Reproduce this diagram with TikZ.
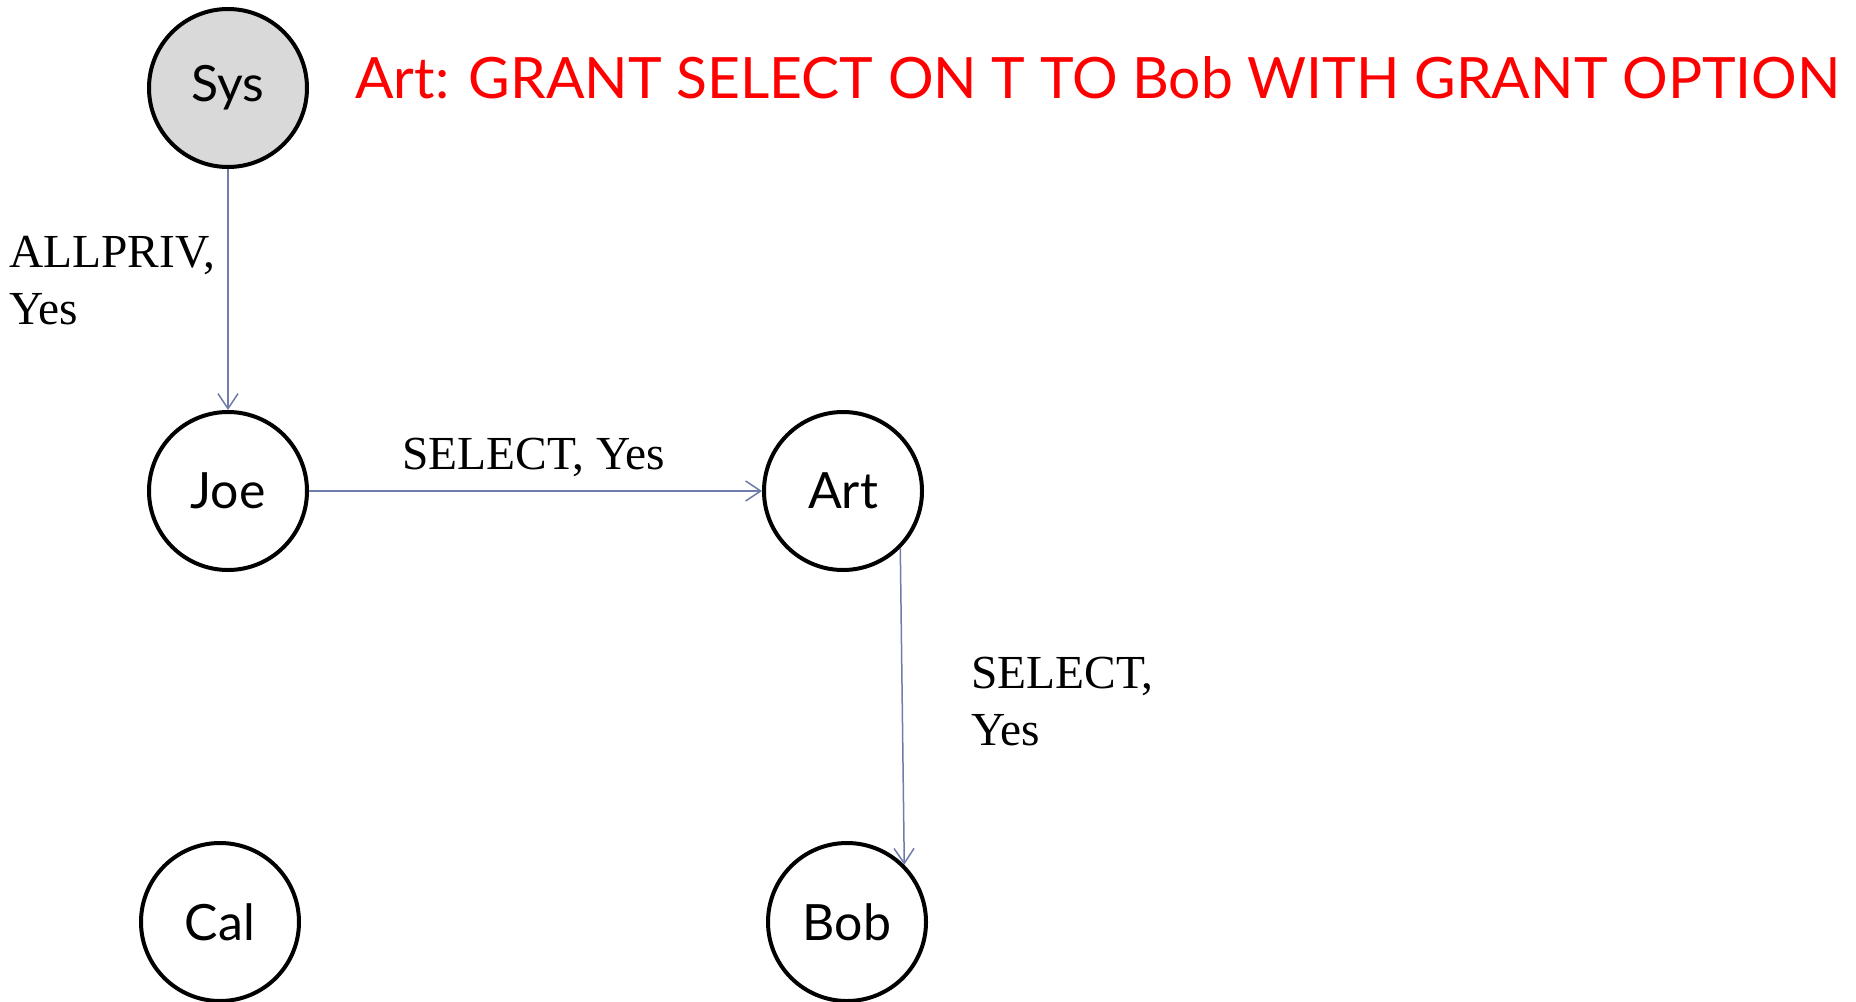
\documentclass[tikz,border=0pt]{standalone}
\usepackage{fontspec}
\setmainfont{Liberation Serif}
\newfontfamily\gillsans{Lato}
\usetikzlibrary{arrows.meta}
\definecolor{edgeblue}{RGB}{112,124,170}
\definecolor{sysgray}{RGB}{217,217,217}

\begin{document}
\begin{tikzpicture}[x=0.5pt,y=-0.5pt,
    user/.style={circle,draw,line width=2pt,minimum size=79pt,inner sep=0pt,
      font=\gillsans\fontsize{25}{29}\selectfont},
    grant/.style={draw=edgeblue,line width=0.75pt,-{Straight Barb[length=7.5pt,width=10pt]}},
    priv/.style={font=\fontsize{23.7}{28.5}\selectfont,align=left,inner sep=0pt}]
        \useasboundingbox (0,0) rectangle (1856,1001);

        \node[user,fill=sysgray] (sys) at (228,88) {Sys};
        \node[user] (joe) at (228,491) {Joe};
        \node[user] (art) at (843,491) {Art};
        \node[user] (cal) at (220,922) {Cal};
        \node[user] (bob) at (847,922) {Bob};

        \draw[grant] (sys) -- (joe);
        \draw[grant] (joe) -- (art);
        \draw[grant] (art.-45) -- (bob.45);

        % multi-line labels: base is the last line
        \node[priv,anchor=base west] (allpriv) at (9,324) {ALLPRIV,\\Yes};
        \node[priv,anchor=base west] (selectjoe) at (402,469) {SELECT, Yes};
        \node[priv,anchor=base west] (selectart) at (971,745) {SELECT,\\Yes};

        \node[anchor=base west,inner sep=0pt,text=red,font=\gillsans\fontsize{28.5}{32}\selectfont]
          (stmt) at (355,98) {Art: GRANT SELECT ON T TO Bob WITH GRANT OPTION};
\end{tikzpicture}
\end{document}
